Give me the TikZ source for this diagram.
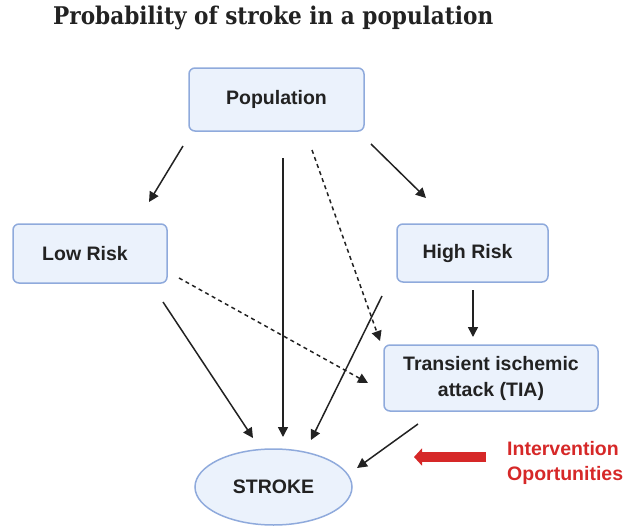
\documentclass[tikz,border=0pt]{standalone}
\usepackage{fontspec}
\setmainfont{Liberation Sans}
\newfontfamily\titlefont{DejaVu Serif}
\usepackage{graphicx}
\usetikzlibrary{arrows.meta,shapes.geometric}
\definecolor{boxfill}{HTML}{EBF2FC}
\definecolor{boxline}{HTML}{8FAADC}
\definecolor{txt}{HTML}{222222}
\definecolor{redint}{HTML}{D62828}
\tikzset{
  box/.style={draw=boxline, fill=boxfill, line width=1.5pt, rounded corners=6pt,
    font=\fontsize{19.5}{26}\selectfont\bfseries, text=txt, align=center, inner sep=0pt},
  conn/.style={line width=1.5pt, draw=txt, -{Triangle[length=10pt,width=10pt]}},
  dconn/.style={conn, dash pattern=on 4pt off 3.5pt},
}
\begin{document}
\begin{tikzpicture}[x=1pt,y=-1pt]
\useasboundingbox (0,0) rectangle (630,530);
\node[anchor=base west, inner sep=0pt, text=txt] (title) at (53,25)
  {\resizebox{440pt}{18.5pt}{\titlefont\bfseries Probability of stroke in a population}};

\node[box, minimum width=175pt, minimum height=63pt] (pop) at (276.5,99.5) {Population};
\node[box, minimum width=154pt, minimum height=59pt] (low) at (90,253.5) {Low Risk\hspace*{10pt}};
\node[box, minimum width=151pt, minimum height=58pt] (high) at (472.5,253) {High Risk\hspace*{10pt}};
\node[box, minimum width=214pt, minimum height=66pt] (tia) at (491,378) {Transient ischemic\\attack (TIA)};
\node[box, ellipse, rounded corners=0pt, minimum width=157pt, minimum height=76pt] (stroke) at (273.5,487) {STROKE};

\node[anchor=west, inner sep=0pt, align=left, text=redint,
  font=\fontsize{19.5}{25}\selectfont\bfseries] (interv) at (507,462.5) {Intervention\\Oportunities};

% connector end points (arrows stop short of the nodes)
\coordinate (pl1) at (183,146); \coordinate (pl2) at (149,202);
\coordinate (ps1) at (283,158); \coordinate (ps2) at (283,437);
\coordinate (pt1) at (312,150); \coordinate (pt2) at (380,341);
\coordinate (ph1) at (371,144); \coordinate (ph2) at (426,198);
\coordinate (ls1) at (163,302); \coordinate (ls2) at (253,438);
\coordinate (lt1) at (179,278); \coordinate (lt2) at (368,383);
\coordinate (ht1) at (473,290); \coordinate (ht2) at (473,337);
\coordinate (hs1) at (382,296); \coordinate (hs2) at (311,440);
\coordinate (ts1) at (418,424); \coordinate (ts2) at (357,468);
\coordinate (r1) at (486,457); \coordinate (r2) at (414,457);

\draw[conn] (pl1) -- (pl2);
\draw[conn] (ps1) -- (ps2);
\draw[dconn] (pt1) -- (pt2);
\draw[conn] (ph1) -- (ph2);
\draw[conn] (ls1) -- (ls2);
\draw[dconn] (lt1) -- (lt2);
\draw[conn] (ht1) -- (ht2);
\draw[conn] (hs1) -- (hs2);
\draw[conn] (ts1) -- (ts2);
\draw[draw=redint, line width=10pt, -{Triangle[length=8pt,width=17pt]}] (r1) -- (r2);
\end{tikzpicture}
\end{document}
